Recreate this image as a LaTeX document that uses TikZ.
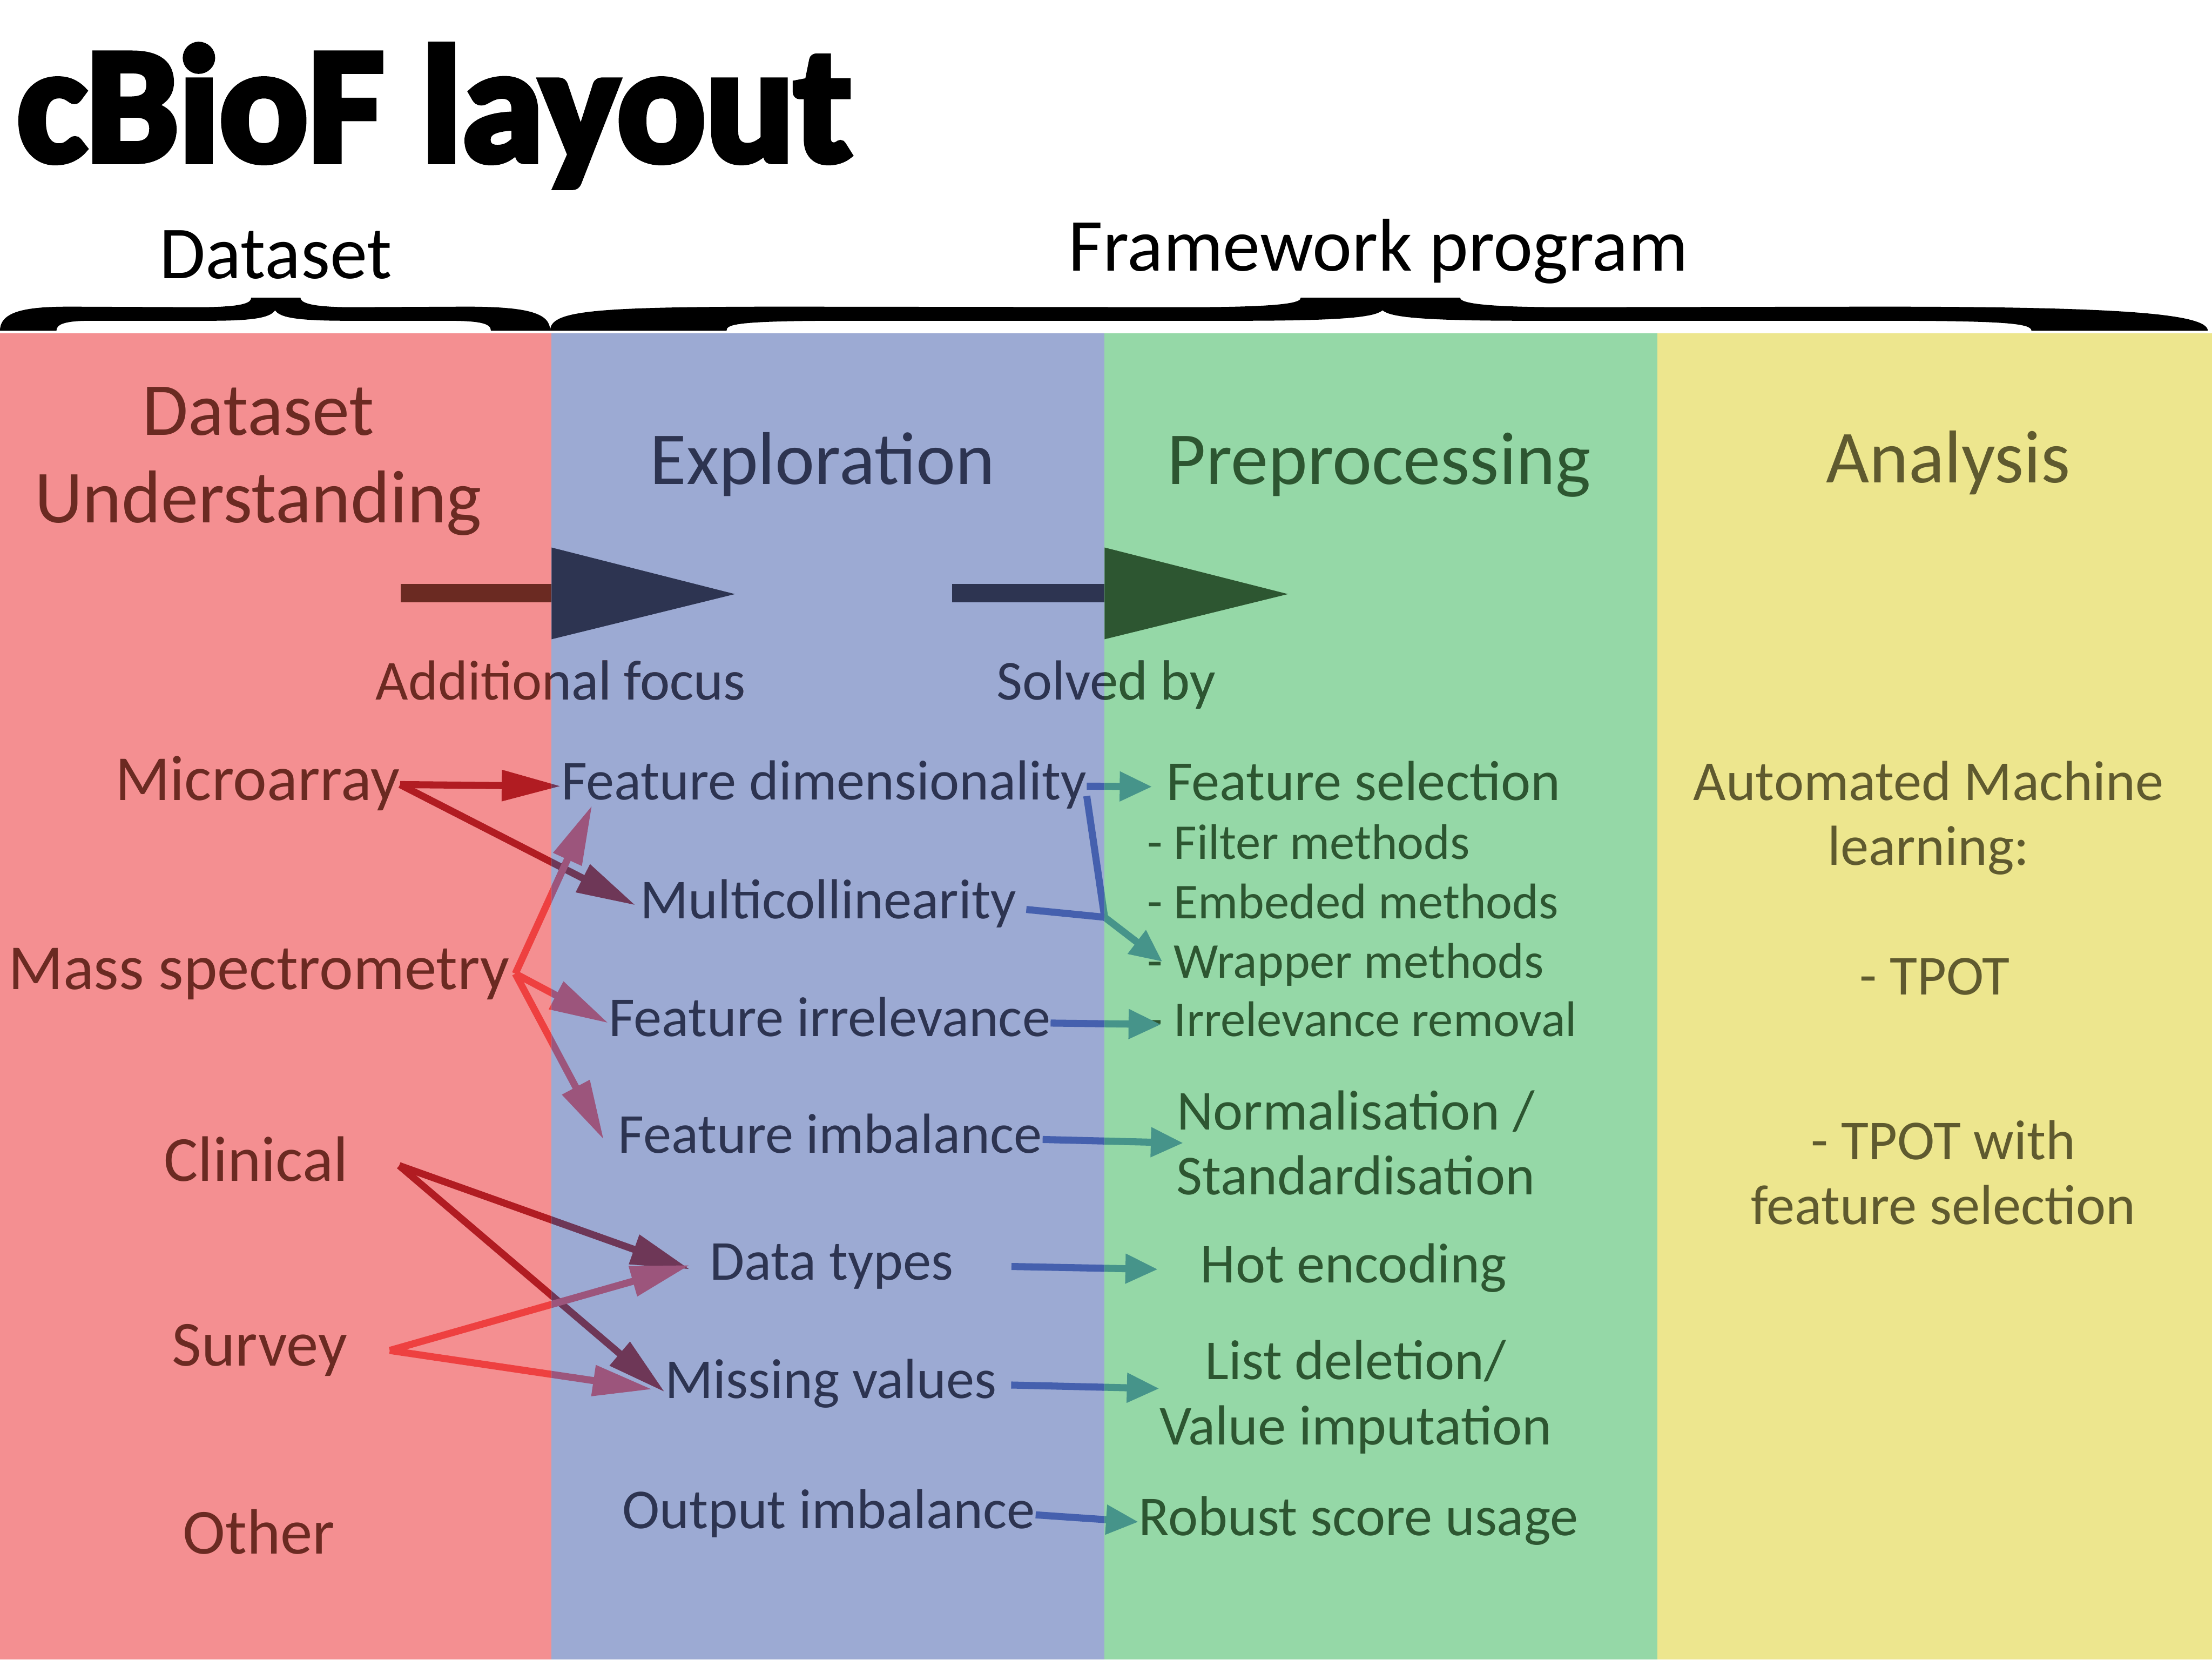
\documentclass[tikz,border=0pt]{standalone}
\usepackage{fontspec}
\setmainfont{Carlito}
\newfontfamily\titlefont{Carlito}[BoldFeatures={FakeBold=4}]
\usepackage{xcolor}
\usepackage{tikz}
\usetikzlibrary{arrows.meta}

\definecolor{dsfill}{HTML}{F48F91}
\definecolor{expfill}{HTML}{9CAAD3}
\definecolor{prefill}{HTML}{95D8A7}
\definecolor{anafill}{HTML}{EDE68E}
\definecolor{dstext}{HTML}{6B2A22}
\definecolor{exptext}{HTML}{2D3451}
\definecolor{pretext}{HTML}{2D5631}
\definecolor{anatext}{HTML}{5F5A2F}
\definecolor{linkdarkA}{HTML}{B11C22}
\definecolor{linkdarkB}{HTML}{6E3757}
\definecolor{linklightA}{HTML}{EE4040}
\definecolor{linklightB}{HTML}{9C557C}
\definecolor{solveA}{HTML}{4560AE}
\definecolor{solveB}{HTML}{46948A}

\tikzset{
  heading/.style={inner sep=0pt, font=\fontsize{53}{62}\selectfont},
  source/.style={inner sep=0pt, text=dstext, font=\fontsize{45.5}{54}\selectfont, text height=31pt, text depth=9pt},
  issue/.style={inner sep=0pt, text=exptext, font=\fontsize{40}{46}\selectfont, text height=27pt, text depth=8pt},
  remedy/.style={inner sep=0pt, text=pretext, font=\fontsize{40}{46}\selectfont, text height=27pt, text depth=8pt},
  method/.style={inner sep=0pt, text=pretext, font=\fontsize{35.5}{42}\selectfont, text height=24pt, text depth=7pt},
  remedyblock/.style={inner sep=0pt, text=pretext, align=center, font=\fontsize{40}{46}\selectfont},
  toolblock/.style={inner sep=0pt, text=anatext, align=center, font=\fontsize{40}{46}\selectfont},
  link/.style={line width=5pt, -{Triangle[length=42pt,width=21pt]}},
  solveline/.style={line width=5pt},
  solvelink/.style={solveline, -{Triangle[length=23pt,width=20pt]}},
}

% links from the datasets to the issues (drawn once per column)
\newcommand{\sourcelinks}{%
  \draw[darklink] (micro.east) -- (fd.west);
  \draw[darklink] (micro.east) -- ([xshift=-3pt]multi.west);
  \draw[lightlink] ([xshift=4pt]ms.east) -- ([xshift=22pt,yshift=4pt]fd.south west);
  \draw[lightlink] ([xshift=4pt]ms.east) -- (firr.west);
  \draw[lightlink] ([xshift=4pt]ms.east) -- ([xshift=-10pt]fimb.west);
  \draw[darklink] ([xshift=36pt]clin.east) -- ([xshift=-14pt,yshift=-2pt]dt.west);
  \draw[darklink] ([xshift=36pt]clin.east) -- ([yshift=-5pt]mv.west);
  \draw[lightlink] ([xshift=30pt]surv.east) -- ([xshift=-14pt,yshift=1pt]dt.west);
  \draw[lightlink] ([xshift=30pt]surv.east) -- ([xshift=-9pt,yshift=-3pt]mv.west);
}

% links from the issues to their solutions
\newcommand{\solvelinks}{%
  \draw[solvelink] (fd.east) -- ([xshift=-10pt]fs.west);
  \draw[solveline] ([yshift=-7pt]fd.east) -- (joint);
  \draw[solveline] ([xshift=7pt,yshift=-3pt]multi.east) -- (joint);
  \draw[solvelink] (joint) -- ([xshift=11pt,yshift=3pt]wrap.west);
  \draw[solvelink] (firr.east) -- ([xshift=10pt]irrem.west);
  \draw[solvelink] (fimb.east) -- ([xshift=5pt]norm.west);
  \draw[solvelink] ([xshift=41pt]dt.east) -- ([xshift=-30pt]hot.west);
  \draw[solvelink] ([xshift=10pt]mv.east) -- ([yshift=6pt]list.west);
  \draw[solvelink] (oi.east) -- (robust.west);
}

\begin{document}
\begin{tikzpicture}[x=1pt, y=-1pt]
    \useasboundingbox (0,0) rectangle (1568,1176);

    % Column backgrounds
    \fill[dsfill] (0,236) rectangle (391,1176);
    \fill[expfill] (391,236) rectangle (783,1176);
    \fill[prefill] (783,236) rectangle (1175,1176);
    \fill[anafill] (1175,236) rectangle (1568,1176);

    % Title
    \node[anchor=base west, inner sep=0pt, font=\titlefont\bfseries\fontsize{117}{122}\selectfont] (title) at (12,114) {cBioF layout};
    \node[heading, anchor=base] (dataset) at (195.5,197.5) {Dataset};
    \node[heading, anchor=base] (framework) at (977,192) {Framework program};

    % Braces
    \fill (0,234.4) .. controls (0,220) and (20,217.3) .. (50,217.3) -- (140,217.7)
        .. controls (175,217.7) and (178,214) .. (178,211) -- (213,211)
        .. controls (213,214) and (218,217.7) .. (250,217.7) -- (330,217.3)
        .. controls (375,217.3) and (390,222) .. (390,234.4) -- (348,234.4)
        .. controls (348,229) and (340,227.3) .. (315,227.3) -- (245,227.3)
        .. controls (205,227.3) and (198,224) .. (195,219.9)
        .. controls (192,224) and (185,227.3) .. (150,227.3) -- (65,227.3)
        .. controls (45,227.3) and (40,230) .. (40,234.4) -- cycle;
    \fill (390,234.4) .. controls (390,220) and (420,217.3) .. (560,217.3) -- (840,217.7)
        .. controls (915,217.7) and (922,214) .. (922,211) -- (1035,211)
        .. controls (1035,214) and (1045,217.7) .. (1110,217.7) -- (1330,217.3)
        .. controls (1500,217.3) and (1565,222) .. (1565,234.4) -- (1440,234.4)
        .. controls (1440,229) and (1420,227.3) .. (1330,227.3) -- (1080,227.3)
        .. controls (1000,227.3) and (985,224) .. (980,219.9)
        .. controls (975,224) and (960,227.3) .. (880,227.3) -- (600,227.3)
        .. controls (520,227.3) and (515,230) .. (515,234.4) -- cycle;

    % Column headings
    \node[heading, text=dstext, align=center] (dsu) at (183,327) {Dataset\\Understanding};
    \node[heading, text=exptext, anchor=base] (expl) at (583,343) {Exploration};
    \node[heading, text=pretext, anchor=base] (prep) at (977.5,343) {Preprocessing};
    \node[heading, text=anatext, anchor=base] (anal) at (1381,342) {Analysis};

    % Flow arrows between the stages
    \fill[dstext] (284,414) rectangle (391,427);
    \fill[exptext] (391,388) -- (521,421) -- (391,453) -- cycle;
    \fill[exptext] (675,414) rectangle (783,427);
    \fill[pretext] (783,388) -- (913,421) -- (783,453) -- cycle;

    \node[issue, text=dstext, anchor=base] (focus) at (397.5,496) {Additional focus};
    \node[issue, anchor=base] (solved) at (784,496) {Solved by};
    \begin{scope}
        \clip (391,236) rectangle (783,1176);
        \node[issue, anchor=base] at (397.5,496) {Additional focus};
    \end{scope}
    \begin{scope}
        \clip (783,236) rectangle (1175,1176);
        \node[remedy, anchor=base] at (784,496) {Solved by};
    \end{scope}

    % Datasets
    \node[source, anchor=base] (micro) at (182.5,567) {Microarray};
    \node[source, anchor=base] (ms) at (183.5,701) {Mass spectrometry};
    \node[source, anchor=base] (clin) at (181.5,837) {Clinical};
    \node[source, anchor=base] (surv) at (184,968) {Survey};
    \node[source, anchor=base] (other) at (183.5,1101) {Other};

    % Issues
    \node[issue, anchor=base] (fd) at (584,566.6) {Feature dimensionality};
    \node[issue, anchor=base] (multi) at (587,651) {Multicollinearity};
    \node[issue, anchor=base] (firr) at (588,734.5) {Feature irrelevance};
    \node[issue, anchor=base] (fimb) at (588.5,817) {Feature imbalance};
    \node[issue, anchor=base] (dt) at (589.5,907) {Data types};
    \node[issue, anchor=base] (mv) at (589,991) {Missing values};
    \node[issue, anchor=base] (oi) at (587.5,1083) {Output imbalance};

    % Solutions
    \node[remedy, anchor=base] (fs) at (966.5,567) {Feature selection};
    \node[method, anchor=base west] (filt) at (813,609) {- Filter methods};
    \node[method, anchor=base west] (emb) at (813,651) {- Embeded methods};
    \node[method, anchor=base west] (wrap) at (813,693) {- Wrapper methods};
    \node[method, anchor=base west] (irrem) at (813,734.5) {- Irrelevance removal};
    \node[remedyblock] (norm) at (961,810) {Normalisation /\\Standardisation};
    \node[remedy, anchor=base] (hot) at (959.5,909) {Hot encoding};
    \node[remedyblock] (list) at (961,990) {List deletion/\\Value imputation};
    \node[remedy, anchor=base] (robust) at (963,1088) {Robust score usage};

    % Analysis
    \node[toolblock] (automl) at (1367,579.5) {Automated Machine\\learning:};
    \node[toolblock, anchor=base] (tpot) at (1371.5,705) {- TPOT};
    \node[toolblock] (tpotfs) at (1377.5,831) {- TPOT with\\feature selection};

    \coordinate (joint) at (783,650);

    % Links, coloured per column
    \begin{scope}[darklink/.style={link, color=linkdarkA}, lightlink/.style={link, color=linklightA}]
        \clip (0,236) rectangle (391,1176);
        \sourcelinks
    \end{scope}
    \begin{scope}[darklink/.style={link, color=linkdarkB}, lightlink/.style={link, color=linklightB}]
        \clip (391,236) rectangle (783,1176);
        \sourcelinks
    \end{scope}
    \begin{scope}[color=solveA]
        \clip (391,236) rectangle (783,1176);
        \solvelinks
    \end{scope}
    \begin{scope}[color=solveB]
        \clip (783,236) rectangle (1175,1176);
        \solvelinks
    \end{scope}
\end{tikzpicture}
\end{document}
